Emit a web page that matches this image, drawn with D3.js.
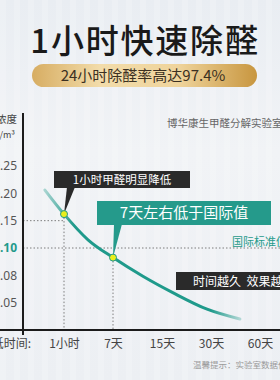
<!DOCTYPE html>
<html>
<head>
<meta charset="utf-8">
<script src="https://cdn.jsdelivr.net/npm/d3@7"></script>
<style>
  html, body { margin: 0; padding: 0; background: #eef1f5; }
  svg { display: block; font-family: "Noto Sans CJK SC", "Noto Sans", sans-serif; }
</style>
</head>
<body>
<svg width="280" height="380"></svg>
<script>
// chart values
const xLabels = ["1小时", "7天", "15天", "30天", "60天"];
const yTicks = [0.25, 0.20, 0.15, 0.10, 0.08, 0.05];
const yLevels = [0, 0.05, 0.08, 0.10, 0.15, 0.20, 0.25];
// decay curve (x = position along the time labels, y = mg/m3)
const curveX = [-0.39, 0, 0.49, 1, 1.61, 2.22, 2.92, 3.59];
const curveY = [0.206, 0.162, 0.115, 0.093, 0.079, 0.061, 0.038, 0.020];
// highlighted points
const markX = [0, 1];
const markY = [0.162, 0.093];
const refOneHour = 0.15;
const refStandard = 0.10;

const W = 280, H = 380;
const teal = "#1f9a8b";
const svg = d3.select("svg");

//Background
const defs = svg.append("defs");
const bg = defs.append("linearGradient").attr("id", "bg")
    .attr("x1", 0).attr("y1", 0).attr("x2", 0).attr("y2", 1);
bg.append("stop").attr("offset", "0%").attr("stop-color", "#e9edf2");
bg.append("stop").attr("offset", "40%").attr("stop-color", "#f1f3f6");
bg.append("stop").attr("offset", "100%").attr("stop-color", "#eceff3");
svg.append("rect").attr("width", W).attr("height", H).attr("fill", "url(#bg)");

// faint vertical stripes
svg.append("g").selectAll("rect")
    .data(d3.range(0, W, 14))
    .enter().append("rect")
    .attr("x", d => d).attr("y", 0)
    .attr("width", 6).attr("height", H)
    .attr("fill", "#ffffff").attr("opacity", 0.18);

//Title
svg.append("text")
    .attr("x", 145).attr("y", 53)
    .attr("text-anchor", "middle")
    .attr("font-size", 33).attr("font-weight", 500)
    .attr("letter-spacing", 1.8)
    .attr("fill", "#1a1a1a")
    .text("1小时快速除醛");

//Gold pill
const gold = defs.append("linearGradient").attr("id", "gold")
    .attr("x1", 0).attr("y1", 0).attr("x2", 1).attr("y2", 0);
gold.append("stop").attr("offset", "0%").attr("stop-color", "#d7ad62");
gold.append("stop").attr("offset", "30%").attr("stop-color", "#f2dcaa");
gold.append("stop").attr("offset", "65%").attr("stop-color", "#efd49c");
gold.append("stop").attr("offset", "100%").attr("stop-color", "#c8963f");
svg.append("rect")
    .attr("x", 32).attr("y", 64).attr("width", 225).attr("height", 23)
    .attr("rx", 11.5).attr("fill", "url(#gold)");
svg.append("text")
    .attr("x", 143).attr("y", 81)
    .attr("text-anchor", "middle")
    .attr("font-size", 15).attr("fill", "#3b3022")
    .text("24小时除醛率高达97.4%");

//Lab name
svg.append("text")
    .attr("x", 167).attr("y", 127)
    .attr("font-size", 10.5).attr("fill", "#666")
    .text("博华康生甲醛分解实验室");

//Scales
const axisX = 23, axisY = 330, topTick = 166;
const step = (axisY - topTick) / (yLevels.length - 1);
const y = d3.scaleLinear()
    .domain(yLevels)
    .range(yLevels.map((d, i) => axisY - i * step));
const x = d3.scaleLinear().domain([0, xLabels.length - 1]).range([64, 260]);

//Unit label
svg.append("text").attr("x", 17).attr("y", 123)
    .attr("text-anchor", "end").attr("font-size", 10.5).attr("fill", "#444")
    .text("甲醛浓度");
svg.append("text").attr("x", 15).attr("y", 138)
    .attr("text-anchor", "end").attr("font-size", 9).attr("fill", "#444")
    .text("mg/m³");

//Dotted guide lines
const guides = svg.append("g")
    .attr("stroke", "#7d7d7d").attr("stroke-width", 1)
    .attr("stroke-dasharray", "1.5,2");
guides.append("line")
    .attr("x1", axisX).attr("x2", x(markX[0]))
    .attr("y1", y(refOneHour)).attr("y2", y(refOneHour));
guides.append("line")
    .attr("x1", axisX).attr("x2", W)
    .attr("y1", y(refStandard)).attr("y2", y(refStandard));
markX.forEach((mx, i) => {
    guides.append("line")
        .attr("x1", x(mx)).attr("x2", x(mx))
        .attr("y1", y(markY[i])).attr("y2", axisY);
});

//Standard label
svg.append("text")
    .attr("x", 232).attr("y", 246)
    .attr("font-size", 11).attr("fill", teal)
    .text("国际标准值");

//Axes
const yaxis = d3.axisLeft(y).tickValues(yTicks).tickSize(0).tickPadding(6)
    .tickFormat(d3.format(".2f"));
const gy = svg.append("g").attr("transform", `translate(${axisX},0)`).call(yaxis);
gy.select(".domain").remove();
gy.selectAll("text")
    .attr("font-family", "Noto Sans, sans-serif")
    .attr("font-size", 12).attr("fill", "#555")
    .attr("x", -6);
gy.selectAll(".tick").filter(d => d === refStandard).select("text")
    .attr("fill", teal).attr("font-weight", "bold");

const xaxis = d3.axisBottom(x).tickValues(d3.range(xLabels.length))
    .tickSize(0).tickPadding(9).tickFormat(i => xLabels[i]);
const gx = svg.append("g").attr("transform", `translate(0,${axisY})`).call(xaxis);
gx.select(".domain").remove();
gx.selectAll("text")
    .attr("font-family", "Noto Sans CJK SC, sans-serif")
    .attr("font-size", 12).attr("fill", "#444");

svg.append("text")
    .attr("x", 31).attr("y", 348)
    .attr("text-anchor", "end").attr("font-size", 12).attr("fill", "#444")
    .text("降低时间:");

svg.append("line")
    .attr("x1", axisX).attr("x2", axisX).attr("y1", 113).attr("y2", axisY + 5)
    .attr("stroke", "#1b1b1b").attr("stroke-width", 2);
svg.append("line")
    .attr("x1", 0).attr("x2", W).attr("y1", axisY).attr("y2", axisY)
    .attr("stroke", "#1b1b1b").attr("stroke-width", 2);

//Curve
const curveGrad = defs.append("linearGradient").attr("id", "curve")
    .attr("gradientUnits", "userSpaceOnUse")
    .attr("x1", x(curveX[0])).attr("x2", x(curveX[curveX.length - 1]))
    .attr("y1", 0).attr("y2", 0);
curveGrad.append("stop").attr("offset", "0%").attr("stop-color", teal).attr("stop-opacity", 0.35);
curveGrad.append("stop").attr("offset", "15%").attr("stop-color", teal).attr("stop-opacity", 1);
curveGrad.append("stop").attr("offset", "85%").attr("stop-color", teal).attr("stop-opacity", 1);
curveGrad.append("stop").attr("offset", "100%").attr("stop-color", teal).attr("stop-opacity", 0.3);

const line = d3.line()
    .x((d, i) => x(curveX[i]))
    .y(d => y(d))
    .curve(d3.curveMonotoneX);
svg.append("path")
    .attr("d", line(curveY))
    .attr("fill", "none")
    .attr("stroke", "url(#curve)")
    .attr("stroke-width", 3)
    .attr("stroke-linecap", "round");

//Callouts
function callout(bx, by, bw, bh, fill, label, size, px, tip) {
    const g = svg.append("g");
    g.append("path")
        .attr("d", `M${px},${by + bh - 1} L${px + 8},${by + bh - 1} L${tip[0]},${tip[1]} Z`)
        .attr("fill", fill);
    g.append("rect")
        .attr("x", bx).attr("y", by).attr("width", bw).attr("height", bh)
        .attr("fill", fill);
    g.append("text")
        .attr("x", bx + bw / 2).attr("y", by + bh / 2 + size * 0.36)
        .attr("text-anchor", "middle")
        .attr("font-size", size).attr("fill", "#fff")
        .text(label);
    return g;
}

callout(54, 171, 136, 17, "#2a2a2a", "1小时甲醛明显降低", 11.5, 67,
    [x(markX[0]), y(markY[0])]);
callout(97, 201, 174, 24, "#259a8b", "7天左右低于国际值", 15, 114,
    [x(markX[1]), y(markY[1])]);

const last = svg.append("g");
last.append("rect").attr("x", 176).attr("y", 272).attr("width", 110).attr("height", 18)
    .attr("fill", "#2a2a2a");
last.append("text").attr("x", 193).attr("y", 285.5)
    .attr("font-size", 12).attr("fill", "#fff").attr("xml:space", "preserve")
    .text("时间越久  效果越好");

//Marks
svg.append("g").selectAll("circle")
    .data(markY)
    .enter().append("circle")
    .attr("cx", (d, i) => x(markX[i]))
    .attr("cy", d => y(d))
    .attr("r", 3.5)
    .attr("fill", "#e9ef1c")
    .attr("stroke", "#1f9a8b")
    .attr("stroke-width", 1);

//Footnote
svg.append("text")
    .attr("x", 193).attr("y", 368)
    .attr("font-size", 8.5).attr("fill", "#9a9a9a")
    .text("温馨提示：实验室数据仅供参考");
</script>
</body>
</html>
